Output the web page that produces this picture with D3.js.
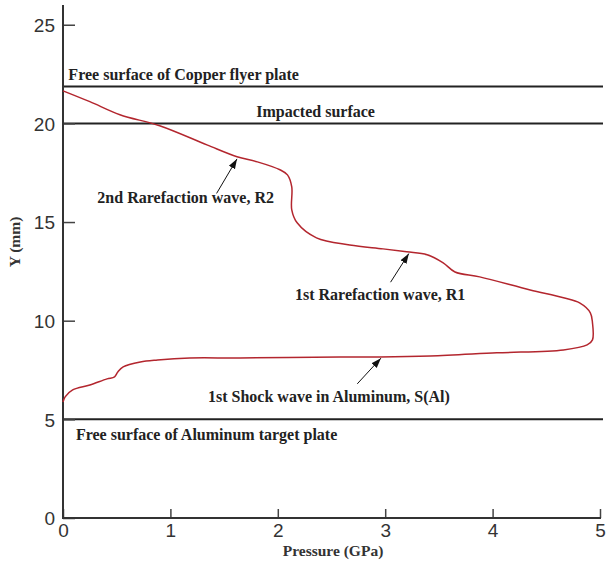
<!DOCTYPE html>
<html>
<head>
<meta charset="utf-8">
<title>Pressure profile</title>
<script src="https://d3js.org/d3.v7.min.js"></script>
<style>
  body { margin: 0; background: #fff; }
  .tick text { font: 19px 'Liberation Sans', Arial, sans-serif; fill: #333; }
  .note { font: bold 16px 'Liberation Serif', 'Times New Roman', serif; fill: #222; }
  .alabel { font: bold 15.5px 'Liberation Serif', 'Times New Roman', serif; fill: #333; }
</style>
</head>
<body>
<svg id="chart" width="606" height="567"></svg>
<script>
// pressure (GPa) vs Y (mm), traced from the top of the profile around the bulge
var pressure = [0, 0.25, 0.53, 0.90, 1.34, 1.62, 1.81, 2.02, 2.09, 2.13, 2.13,
  2.18, 2.36, 2.67, 2.98, 3.20, 3.39, 3.54, 3.65, 3.88, 4.35, 4.66, 4.81, 4.91, 4.93, 4.93,
  4.88, 4.66, 4.04, 3.42, 2.95, 2.58, 1.65, 1.18, 0.88, 0.72, 0.56, 0.51, 0.48, 0.41, 0.25,
  0.09, 0.02, 0];
var yPos = [21.65, 21.1, 20.44, 19.88, 18.91, 18.31, 18.05, 17.65, 17.39, 16.78, 15.62,
  14.96, 14.2, 13.84, 13.64, 13.49, 13.34, 12.93, 12.47, 12.22, 11.56, 11.16, 10.90, 10.40, 9.89, 9.03,
  8.77, 8.52, 8.37, 8.21, 8.16, 8.16, 8.11, 8.11, 8.01, 7.91, 7.66, 7.40, 7.15, 7.05, 6.74,
  6.49, 6.14, 5.88];

// reference surfaces
var surfaceY = [21.87, 20, 5];

// labels: text, P, Y (baseline left)
var noteText = ["Free surface of Copper flyer plate", "Impacted surface", "2nd Rarefaction wave, R2",
  "1st Rarefaction wave, R1", "1st Shock wave in Aluminum, S(Al)", "Free surface of Aluminum target plate"];
var noteP = [0.05, 1.80, 0.32, 2.16, 1.35, 0.12];
var noteY = [22.2, 20.3, 15.95, 11.05, 5.9, 3.95];

// arrows: from (P,Y) to (P,Y)
var arrowFrom = [[1.43, 16.45], [3.05, 11.95], [2.74, 6.8]];
var arrowTo = [[1.62, 18.2], [3.22, 13.4], [2.96, 8.1]];

var xTicks = [0, 1, 2, 3, 4, 5];
var yTicks = [0, 5, 10, 15, 20, 25];

var svg = d3.select("#chart");
var x = d3.scaleLinear().domain([0, 5]).range([63, 600]);
var y = d3.scaleLinear().domain([0, 26]).range([518, 5]);

svg.append("defs").append("marker")
    .attr("id", "head")
    .attr("viewBox", "0 0 10 10")
    .attr("refX", 10).attr("refY", 5)
    .attr("markerWidth", 10).attr("markerHeight", 10)
    .attr("markerUnits", "userSpaceOnUse")
    .attr("orient", "auto")
  .append("path")
    .attr("d", "M0,1.5L10,5L0,8.5z")
    .attr("fill", "#111");

// surfaces
svg.append("g").selectAll("line")
  .data(surfaceY)
  .enter().append("line")
    .attr("x1", x(0)).attr("x2", x(5) + 3)
    .attr("y1", function(d) { return y(d); })
    .attr("y2", function(d) { return y(d); })
    .attr("stroke", "#222")
    .attr("stroke-width", 2);

// ticks point inward, minor every 0.2 GPa / 1 mm
var gx = svg.append("g").attr("transform", "translate(0," + y(0) + ")");
gx.call(d3.axisTop(x).tickValues(d3.range(0, 5.01, 0.2)).tickSize(5).tickFormat(""));
gx.call(d3.axisTop(x).tickValues(xTicks).tickSize(9).tickFormat(""));
gx.select(".domain").remove();
gx.selectAll("line").attr("stroke", "#444").attr("stroke-width", 1.5);

var gxl = svg.append("g").attr("transform", "translate(0," + y(0) + ")")
  .call(d3.axisBottom(x).tickValues(xTicks).tickSize(0).tickPadding(6).tickFormat(d3.format("d")));
gxl.select(".domain").remove();

var gy = svg.append("g").attr("transform", "translate(" + x(0) + ",0)");
gy.call(d3.axisRight(y).tickValues(d3.range(0, 26, 1)).tickSize(5).tickFormat(""));
gy.call(d3.axisRight(y).tickValues(yTicks).tickSize(12).tickFormat(""));
gy.select(".domain").remove();
gy.selectAll("line").attr("stroke", "#444").attr("stroke-width", 1.5);

var gyl = svg.append("g").attr("transform", "translate(" + x(0) + ",0)")
  .call(d3.axisLeft(y).tickValues(yTicks).tickSize(0).tickPadding(8).tickFormat(d3.format("d")));
gyl.select(".domain").remove();
gyl.selectAll("text").attr("dy", "0.36em");

// axis lines
svg.append("line")
    .attr("x1", x(0)).attr("x2", x(0)).attr("y1", y(0) + 1).attr("y2", y(26))
    .attr("stroke", "#333").attr("stroke-width", 2);
svg.append("line")
    .attr("x1", x(0)).attr("x2", x(5) + 1).attr("y1", y(0)).attr("y2", y(0))
    .attr("stroke", "#333").attr("stroke-width", 2);

// profile curve
svg.append("path")
    .datum(pressure)
    .attr("d", d3.line()
      .x(function(d, i) { return x(pressure[i]); })
      .y(function(d, i) { return y(yPos[i]); })
      .curve(d3.curveCatmullRom.alpha(0.5)))
    .attr("fill", "none")
    .attr("stroke", "#b3262e")
    .attr("stroke-width", 1.5);

// notes
svg.append("g").selectAll("text")
  .data(noteText)
  .enter().append("text")
    .attr("class", "note")
    .attr("x", function(d, i) { return x(noteP[i]); })
    .attr("y", function(d, i) { return y(noteY[i]); })
    .text(function(d) { return d; });

svg.append("g").selectAll("line")
  .data(arrowFrom)
  .enter().append("line")
    .attr("x1", function(d) { return x(d[0]); })
    .attr("y1", function(d) { return y(d[1]); })
    .attr("x2", function(d, i) { return x(arrowTo[i][0]); })
    .attr("y2", function(d, i) { return y(arrowTo[i][1]); })
    .attr("stroke", "#111")
    .attr("stroke-width", 1)
    .attr("marker-end", "url(#head)");

// axis titles
svg.append("text")
    .attr("class", "alabel")
    .attr("text-anchor", "middle")
    .attr("x", 333)
    .attr("y", 556)
    .text("Pressure (GPa)");

svg.append("text")
    .attr("class", "alabel")
    .attr("text-anchor", "middle")
    .attr("transform", "translate(20," + 242 + ") rotate(-90)")
    .text("Y (mm)");
</script>
</body>
</html>
